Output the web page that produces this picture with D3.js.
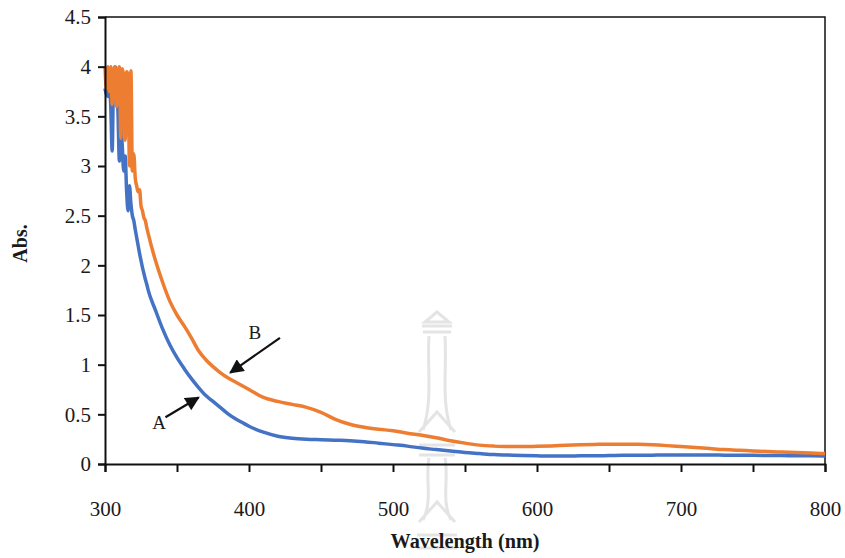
<!DOCTYPE html>
<html>
<head>
<meta charset="utf-8">
<script src="https://cdn.jsdelivr.net/npm/d3@7"></script>
<style>
  html, body { margin: 0; padding: 0; background: #fff; }
  svg text { font-family: "Liberation Serif", "Times New Roman", Times, serif; fill: #1a1a1a; }
</style>
</head>
<body>
<svg id="chart" width="845" height="558"></svg>
<script>
// Wavelength grid (nm): 1 nm steps in the noisy UV region, coarser beyond
const wavelengths = [
  300,301,302,303,304,305,306,307,308,309,310,311,312,313,314,315,316,317,318,319,320,
  321,322,323,324,325,326,327,328,329,330,
  335,340,345,350,355,360,365,370,375,380,385,390,395,400,
  410,420,430,440,450,460,470,480,490,500,510,520,530,540,550,560,570,580,590,600,
  610,620,630,640,650,660,670,680,690,700,710,720,730,740,750,760,770,780,790,800
];

// Absorbance, sample A
const absA = [
  3.78,3.72,3.70,3.85,3.60,3.15,3.95,4.00,3.90,3.55,3.05,3.40,3.20,2.95,3.10,2.75,2.55,2.80,2.62,2.50,2.45,
  2.36,2.28,2.20,2.12,2.05,1.98,1.92,1.86,1.81,1.75,
  1.55,1.36,1.20,1.07,0.96,0.86,0.77,0.69,0.63,0.57,0.51,0.46,0.42,0.38,
  0.32,0.28,0.26,0.25,0.245,0.24,0.235,0.225,0.21,0.195,0.18,0.16,0.145,0.13,0.115,0.105,0.095,0.09,0.085,0.082,
  0.08,0.08,0.082,0.083,0.085,0.087,0.088,0.089,0.09,0.09,0.09,0.09,0.089,0.088,0.087,0.086,0.085,0.083,0.082,0.08
];

// Absorbance, sample B
const absB = [
  4.00,3.78,4.00,3.75,4.00,3.62,3.95,4.00,3.60,3.95,4.00,3.28,3.98,3.90,3.26,3.95,3.92,3.00,3.96,2.95,3.12,
  2.88,2.80,2.74,2.76,2.60,2.55,2.48,2.45,2.38,2.32,
  2.05,1.83,1.64,1.50,1.39,1.27,1.14,1.05,0.98,0.92,0.87,0.83,0.79,0.75,
  0.67,0.63,0.60,0.57,0.52,0.45,0.40,0.37,0.35,0.335,0.31,0.29,0.265,0.235,0.21,0.19,0.18,0.175,0.175,0.178,
  0.182,0.188,0.193,0.197,0.20,0.20,0.198,0.193,0.185,0.175,0.165,0.155,0.145,0.138,0.132,0.125,0.12,0.115,0.11,0.105
];

const xTicks = [300, 400, 500, 600, 700, 800];
const xMinorTicks = [350, 450, 550, 650, 750];
const yTicks = [0, 0.5, 1, 1.5, 2, 2.5, 3, 3.5, 4, 4.5];

// Annotation arrows in data units: [label, labelWl, labelAbs, tailWl, tailAbs, tipWl, tipAbs]
const annotations = [
  ["B", 404, 1.33, 421.5, 1.27, 387, 0.92],
  ["A", 337.5, 0.42, 342, 0.47, 365, 0.67]
];

const serif = "'Liberation Serif', 'Times New Roman', Times, serif";
const svg = d3.select("#chart");
const plot = { left: 105, right: 825, top: 17, bottom: 464 };

const x = d3.scaleLinear().domain([300, 800]).range([plot.left, plot.right]);
const y = d3.scaleLinear().domain([0, 4.5]).range([plot.bottom, plot.top]);

// Faint emblem in the background
const wm = svg.append("g").attr("fill", "none").attr("stroke", "#e4e4e4").attr("stroke-width", 3);
const cx = 437;
wm.append("path").attr("d",
  `M${cx},312 L${cx-12},322 L${cx+12},322 Z M${cx-15},326 h30 M${cx-14},332 h28
   M${cx-8},336 C${cx-10},370 ${cx-4},400 ${cx-14},430 M${cx+8},336 C${cx+10},370 ${cx+4},400 ${cx+14},430
   M${cx-18},432 L${cx},412 L${cx+18},432 M${cx-18},445 h36 M${cx-18},455 h36
   M${cx-8},458 C${cx-12},480 ${cx-4},500 ${cx-14},520 M${cx+8},458 C${cx+12},480 ${cx+4},500 ${cx+14},520
   M${cx-18},522 L${cx},502 L${cx+18},522 M${cx-20},535 h40 M${cx-20},548 h40`);

// Frame (top and right)
svg.append("path")
  .attr("d", `M${plot.left},${plot.top} H${plot.right} V${plot.bottom}`)
  .attr("fill", "none").attr("stroke", "#111").attr("stroke-width", 1.5);

// Curves
const line = (vals) => d3.line()
  .x((d, i) => x(wavelengths[i]))
  .y(d => y(d))
  .curve(d3.curveMonotoneX)(vals);

svg.append("path").attr("d", line(absA))
  .attr("fill", "none").attr("stroke", "#4472C4").attr("stroke-width", 3.5)
  .attr("stroke-linejoin", "round");
svg.append("path").attr("d", line(absB))
  .attr("fill", "none").attr("stroke", "#ED7D31").attr("stroke-width", 3.5)
  .attr("stroke-linejoin", "round");

// Axes
svg.append("g").attr("transform", `translate(${plot.left},0)`)
  .call(d3.axisLeft(y).tickValues(yTicks).tickSize(7).tickPadding(7).tickFormat(d => String(d)));
svg.append("g").attr("transform", `translate(0,${plot.bottom})`)
  .call(d3.axisBottom(x).tickValues(xTicks).tickSize(8).tickPadding(29).tickFormat(d => String(d)));
svg.append("g").attr("transform", `translate(0,${plot.bottom})`)
  .call(d3.axisBottom(x).tickValues(xMinorTicks).tickSize(8).tickFormat(""))
  .call(g => g.select(".domain").remove());

svg.selectAll("g").attr("font-family", serif);
svg.selectAll(".domain").attr("stroke", "#111").attr("stroke-width", 2);
svg.selectAll(".tick line").attr("stroke", "#111").attr("stroke-width", 2);
svg.selectAll(".tick text").attr("font-size", 21).attr("fill", "#1a1a1a")
  .style("font-family", serif);

// Axis titles
svg.append("text")
  .attr("transform", `translate(27,${(plot.top + plot.bottom) / 2 + 3}) rotate(-90)`)
  .attr("text-anchor", "middle").attr("font-size", 20).attr("font-weight", "bold")
  .style("font-family", serif)
  .text("Abs.");
svg.append("text")
  .attr("x", 465).attr("y", 548)
  .attr("text-anchor", "middle").attr("font-size", 20).attr("font-weight", "bold")
  .style("font-family", serif)
  .attr("textLength", 149).attr("lengthAdjust", "spacingAndGlyphs")
  .text("Wavelength (nm)");

// Arrow annotations
const defs = svg.append("defs");
defs.append("marker").attr("id", "head").attr("viewBox", "0 0 10 10")
  .attr("refX", 9).attr("refY", 5).attr("markerWidth", 7).attr("markerHeight", 6.5)
  .attr("orient", "auto").attr("markerUnits", "strokeWidth")
  .append("path").attr("d", "M0,0 L10,5 L0,10 Z").attr("fill", "#111");

annotations.forEach(([lab, lw, la, tw, ta, hw, ha]) => {
  svg.append("line")
    .attr("x1", x(tw)).attr("y1", y(ta)).attr("x2", x(hw)).attr("y2", y(ha))
    .attr("stroke", "#111").attr("stroke-width", 2.2).attr("marker-end", "url(#head)");
  svg.append("text").attr("x", x(lw)).attr("y", y(la) + 7)
    .attr("text-anchor", "middle").attr("font-size", 19)
    .style("font-family", serif).text(lab);
});
</script>
</body>
</html>
